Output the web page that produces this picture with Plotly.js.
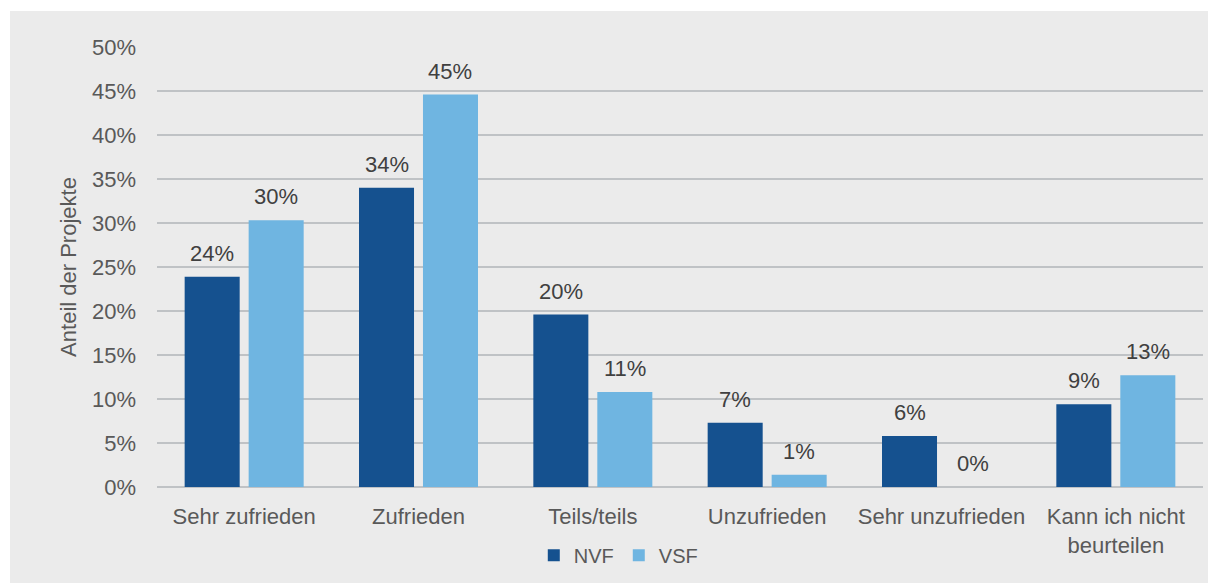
<!DOCTYPE html>
<html>
<head>
<meta charset="utf-8">
<script src="https://cdn.plot.ly/plotly-3.0.1.min.js"></script>
<style>
  html, body { margin: 0; padding: 0; background: #ffffff; }
  #chart { position: absolute; left: 10px; top: 11px; width: 1198px; height: 572px; }
</style>
</head>
<body>
<div id="chart"></div>
<script>
const categories = ["Sehr zufrieden", "Zufrieden", "Teils/teils", "Unzufrieden", "Sehr unzufrieden", "Kann ich nicht<br>beurteilen"];
const nvfValues = [0.239, 0.340, 0.196, 0.073, 0.058, 0.094];
const vsfValues = [0.303, 0.446, 0.108, 0.014, 0.000, 0.127];
const seriesNames = ["NVF", "VSF"];
const seriesColors = ["#15518f", "#6fb5e1"];
const tickValues = [0, 0.05, 0.10, 0.15, 0.20, 0.25, 0.30, 0.35, 0.40, 0.45, 0.50];
const tickLabels = ["0%", "5%", "10%", "15%", "20%", "25%", "30%", "35%", "40%", "45%", "50%"];

const fontFam = "'Liberation Sans', Arial, sans-serif";
const pct = v => Math.round(v * 100) + "%";
const BARGAP = 0.266;
const GROUPGAP = 0.14;

const traces = [nvfValues, vsfValues].map((vals, k) => ({
  type: "bar", name: seriesNames[k], x: categories, y: vals,
  marker: { color: seriesColors[k] },
  hoverinfo: "none"
}));

// value labels, placed above each bar via the category axis
const slot = (1 - BARGAP) / 2;
const annotations = [];
[nvfValues, vsfValues].forEach((vals, k) => {
  vals.forEach((v, i) => {
    annotations.push({
      xref: "x", yref: "y",
      x: i + (k === 0 ? -slot / 2 : slot / 2), y: v,
      text: pct(v), showarrow: false,
      xanchor: "center", yanchor: "bottom", yshift: 9,
      font: { family: fontFam, size: 22, color: "#404040" }
    });
  });
});

const layout = {
  width: 1198, height: 572,
  paper_bgcolor: "#ebebeb", plot_bgcolor: "#ebebeb",
  margin: { l: 147, r: 5, t: 36, b: 96 },
  barmode: "group", bargap: BARGAP, bargroupgap: GROUPGAP,
  font: { family: fontFam, size: 22, color: "#595959" },
  showlegend: true,
  legend: {
    orientation: "h", x: 0.441, xanchor: "center", y: -0.155, yanchor: "middle",
    font: { family: fontFam, size: 20, color: "#595959" },
    bgcolor: "rgba(0,0,0,0)", itemwidth: 30, tracegroupgap: 0
  },
  annotations: annotations,
  xaxis: {
    type: "category", showgrid: false, zeroline: false, showline: false,
    ticks: "", ticklabelstandoff: 14,
    tickfont: { family: fontFam, size: 22, color: "#595959" }
  },
  yaxis: {
    range: [0, 0.5], tickvals: tickValues, ticktext: tickLabels,
    showgrid: true, gridcolor: "#bfc2c5", gridwidth: 2,
    zeroline: true, zerolinecolor: "#bfc2c5", zerolinewidth: 2,
    ticks: "", ticklabelstandoff: 20,
    tickfont: { family: fontFam, size: 22, color: "#595959" },
    title: { text: "Anteil der Projekte", font: { family: fontFam, size: 22, color: "#595959" }, standoff: 9 }
  }
};

Plotly.newPlot("chart", traces, layout, { displayModeBar: false, staticPlot: true });
</script>
</body>
</html>
